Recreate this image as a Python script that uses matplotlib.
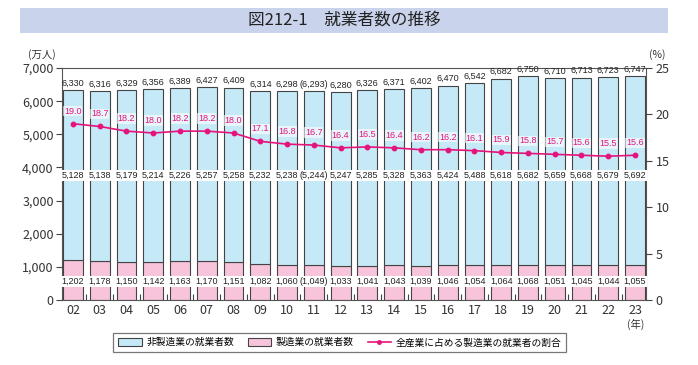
import numpy as np
import matplotlib
matplotlib.use("Agg")
import matplotlib.pyplot as plt
from matplotlib.patches import Rectangle, Patch
from matplotlib.lines import Line2D

plt.rcParams['font.family'] = ['Noto Sans CJK JP', 'DejaVu Sans']

# ---- data ----
years = ["02", "03", "04", "05", "06", "07", "08", "09", "10", "11", "12",
         "13", "14", "15", "16", "17", "18", "19", "20", "21", "22", "23"]
non_mfg = [5128, 5138, 5179, 5214, 5226, 5257, 5258, 5232, 5238, 5244, 5247,
           5285, 5328, 5363, 5424, 5488, 5618, 5682, 5659, 5668, 5679, 5692]
mfg = [1202, 1178, 1150, 1142, 1163, 1170, 1151, 1082, 1060, 1049, 1033,
       1041, 1043, 1039, 1046, 1054, 1064, 1068, 1051, 1045, 1044, 1055]
total = [6330, 6316, 6329, 6356, 6389, 6427, 6409, 6314, 6298, 6293, 6280,
         6326, 6371, 6402, 6470, 6542, 6682, 6750, 6710, 6713, 6723, 6747]
share = [19.0, 18.7, 18.2, 18.0, 18.2, 18.2, 18.0, 17.1, 16.8, 16.7, 16.4,
         16.5, 16.4, 16.2, 16.2, 16.1, 15.9, 15.8, 15.7, 15.6, 15.5, 15.6]
estimated = ["11"]  # 括弧付きの年

blue = "#c6e9f8"
pink = "#f7c4dc"
magenta = "#e4147c"
edge = "#444444"

fig = plt.figure(figsize=(6.98, 3.65), dpi=100)

# タイトル帯
fig.patches.append(Rectangle((0.029, 0.910), 0.928, 0.068, transform=fig.transFigure,
                             facecolor="#c9d4ec", edgecolor="none", zorder=0))
fig.text(0.493, 0.944, "図212-1　就業者数の推移", ha="center", va="center",
         fontsize=12, color="#222222")

ax = fig.add_axes([0.0888, 0.178, 0.8367, 0.6356])
x = np.arange(len(years))
w = 0.74

ax.bar(x, mfg, w, color=pink, edgecolor=edge, linewidth=0.8, zorder=2)
ax.bar(x, non_mfg, w, bottom=mfg, color=blue, edgecolor=edge, linewidth=0.8, zorder=2)

num_font = dict(fontsize=6.5, family=['Liberation Sans Narrow', 'Liberation Sans'])
box = dict(facecolor="white", edgecolor="none", pad=0.8)
for i, y in enumerate(years):
    par = y in estimated
    fmt = (lambda v: f"({v:,})") if par else (lambda v: f"{v:,}")
    ax.text(i, total[i] + 70, fmt(total[i]), ha="center", va="bottom", color="#222222", **num_font)
    ax.text(i, 3760, fmt(non_mfg[i]), ha="center", va="center", color="#222222",
            bbox=box, zorder=4, **num_font)
    ax.text(i, 560, fmt(mfg[i]), ha="center", va="center", color="#222222",
            bbox=box, zorder=4, **num_font)

ax.set_xlim(-0.41, len(years) - 1 + 0.41)
ax.set_ylim(0, 7000)
ax.set_yticks(range(0, 7001, 1000))
ax.set_yticklabels([f"{v:,}" for v in range(0, 7001, 1000)], fontsize=9, color="#333333")
ax.set_xticks(x)
ax.set_xticklabels(years, fontsize=9, color="#333333")
ax.set_xticks(np.arange(0.5, len(years) - 1, 1), minor=True)
ax.tick_params(axis="x", which="major", length=0, pad=3)
ax.tick_params(axis="x", which="minor", direction="in", length=4, width=0.8, color=edge)
ax.tick_params(axis="y", direction="out", length=4, width=0.8, color=edge, pad=2)
for s in ax.spines.values():
    s.set_color("#555555")
    s.set_linewidth(0.8)

ax2 = ax.twinx()
ax2.set_ylim(0, 25)
ax2.set_yticks(range(0, 26, 5))
ax2.set_yticklabels([str(v) for v in range(0, 26, 5)], fontsize=9, color="#333333")
ax2.tick_params(axis="y", direction="out", length=4, width=0.8, color=edge, pad=3)
for s in ax2.spines.values():
    s.set_visible(False)
ax2.plot(x, share, color=magenta, linewidth=1.2, marker="o", markersize=3.2, zorder=5)
for i, v in enumerate(share):
    ax2.annotate(f"{v:.1f}", (i, v), xytext=(0, 9), textcoords="offset points",
                 ha="center", va="center", color=magenta,
                 bbox=dict(facecolor="white", edgecolor="none", pad=0.5, alpha=0.6),
                 zorder=6, **num_font)

fig.text(0.040, 0.850, "(万人)", fontsize=7.5, color="#333333", va="center")
fig.text(0.930, 0.850, "(%)", fontsize=7.5, color="#333333", va="center")
fig.text(0.911, 0.112, "(年)", fontsize=7.5, color="#333333", va="center", ha="center")

handles = [Patch(facecolor=blue, edgecolor=edge, linewidth=0.8),
           Patch(facecolor=pink, edgecolor=edge, linewidth=0.8),
           Line2D([], [], color=magenta, linewidth=1.2, marker="o", markersize=2.5)]
labels = ["非製造業の就業者数", "製造業の就業者数", "全産業に占める製造業の就業者の割合"]
leg = fig.legend(handles, labels, loc="center", bbox_to_anchor=(0.487, 0.062), ncol=3,
                 fontsize=7, frameon=True, fancybox=False, handlelength=2.4,
                 handleheight=0.9, columnspacing=1.4, handletextpad=0.5,
                 borderpad=0.5)
leg.get_frame().set_edgecolor("#555555")
leg.get_frame().set_linewidth(0.9)

fig.savefig("out.png", dpi=100)
